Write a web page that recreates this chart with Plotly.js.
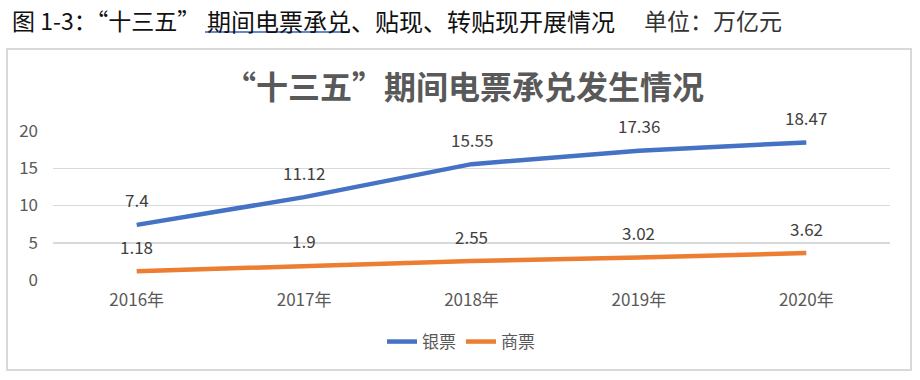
<!DOCTYPE html>
<html>
<head>
<meta charset="utf-8">
<script src="https://cdn.plot.ly/plotly-3.0.1.min.js"></script>
<style>html,body{margin:0;padding:0;background:#fff;}#chart{width:920px;height:380px;}</style>
</head>
<body>
<div id="chart"></div>
<script>
const categories = ['2016年', '2017年', '2018年', '2019年', '2020年'];
const bankBills = [7.4, 11.12, 15.55, 17.36, 18.47];
const commercialBills = [1.18, 1.9, 2.55, 3.02, 3.62];
const seriesNames = ['银票', '商票'];
const yTicks = [0, 5, 10, 15, 20];

const FONT = '"Noto Sans CJK SC", "Noto Sans", sans-serif';
const L = 53, R = 890, T = 131, B = 280;
const W = 920, H = 380;
const px = x => (x - L) / (R - L);
const py = y => (B - y) / (B - T);

const traces = [
  {x: categories, y: bankBills, name: seriesNames[0], mode: 'lines', type: 'scatter',
   line: {color: '#4472C4', width: 4.5}, hoverinfo: 'none'},
  {x: categories, y: commercialBills, name: seriesNames[1], mode: 'lines', type: 'scatter',
   line: {color: '#ED7D31', width: 4.5}, hoverinfo: 'none'}
];

const annotations = [];
[bankBills, commercialBills].forEach(arr => {
  arr.forEach((v, i) => {
    annotations.push({x: categories[i], y: v, xref: 'x', yref: 'y', text: String(v),
      showarrow: false, yshift: 25, yanchor: 'middle',
      font: {family: FONT, size: 17, color: '#404040'}});
  });
});
annotations.push({xref: 'paper', yref: 'paper', x: px(10), y: py(20), xanchor: 'left', yanchor: 'middle',
  text: '图 1-3：“十三五”', showarrow: false, font: {family: FONT, size: 23, color: '#111'}});
annotations.push({xref: 'paper', yref: 'paper', x: px(205), y: py(20), xanchor: 'left', yanchor: 'middle',
  text: '期间电票承兑、贴现、转贴现开展情况', showarrow: false, font: {family: FONT, size: 24, color: '#111'}});
annotations.push({xref: 'paper', yref: 'paper', x: px(642), y: py(20), xanchor: 'left', yanchor: 'middle',
  text: '单位：万亿元', showarrow: false, font: {family: FONT, size: 23, color: '#333'}});
annotations.push({xref: 'paper', yref: 'paper', x: px(464), y: py(85), xanchor: 'center', yanchor: 'middle',
  text: '<b>“十三五”期间电票承兑发生情况</b>', showarrow: false, font: {family: FONT, size: 32, color: '#595959'}});

const layout = {
  width: W, height: H,
  margin: {l: L, r: W - R, t: T, b: H - B, pad: 0},
  paper_bgcolor: '#fff', plot_bgcolor: '#fff',
  showlegend: true,
  legend: {orientation: 'h', x: px(461), y: py(342), xanchor: 'center', yanchor: 'middle',
    font: {family: FONT, size: 17, color: '#595959'}, tracegroupgap: 0},
  xaxis: {type: 'category', range: [-0.5, 4.5], showgrid: false, zeroline: false, showline: false,
    ticks: '', tickfont: {family: FONT, size: 17, color: '#595959'}, ticklabelstandoff: 8, fixedrange: true},
  yaxis: {range: [0, 20], tickvals: yTicks, ticktext: yTicks.map(String), showgrid: true, gridcolor: '#d9d9d9',
    gridwidth: 1.5, zeroline: false, showline: false, ticks: '',
    tickfont: {family: FONT, size: 17, color: '#595959'}, ticklabelstandoff: 14, fixedrange: true},
  shapes: [
    {type: 'rect', xref: 'paper', yref: 'paper', x0: px(7), x1: px(911), y0: py(370), y1: py(49),
     line: {color: '#d9d9d9', width: 2}, fillcolor: 'rgba(0,0,0,0)', layer: 'below'},
    {type: 'line', xref: 'paper', yref: 'paper', x0: px(205), x1: px(350), y0: py(32), y1: py(32),
     line: {color: '#2e5fc4', width: 1.5}}
  ],
  annotations: annotations
};

Plotly.newPlot('chart', traces, layout, {staticPlot: true, displayModeBar: false});
</script>
</body>
</html>
